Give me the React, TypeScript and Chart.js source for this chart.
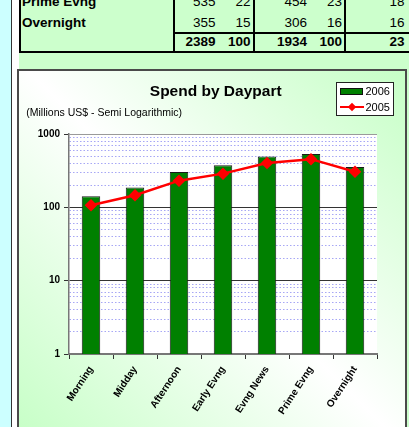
import React, { useEffect, useRef } from 'react';
import { Chart, registerables } from 'chart.js';
Chart.register(...registerables);

const FONT = '"Liberation Sans", Arial, Helvetica, sans-serif';

// ---- chart data ----
const categories = ['Morning', 'Midday', 'Afternoon', 'Early Evng', 'Evng News', 'Prime Evng', 'Overnight'];
const spend2006 = [142, 186, 303, 376, 492, 535, 355];
const spend2005 = [107, 146, 231, 288, 402, 454, 306];
const yTickLabels = [1, 10, 100, 1000];
const yMinorMultipliers = [2, 3, 4, 5, 6, 7, 8, 9];

// ---- table data (partially visible table above the chart) ----
const tableRowLabels = ['Prime Evng', 'Overnight'];
const tableSpendA = [535, 355];
const tableShareA = [22, 15];
const tableSpendB = [454, 306];
const tableShareB = [23, 16];
const tableLastCol = [18, 16];
const tableTotals = [2389, 100, 1934, 100, 23];

const yGridValues: number[] = [];
yTickLabels.forEach((d, i) => {
  yGridValues.push(d);
  if (i < yTickLabels.length - 1) yMinorMultipliers.forEach((m) => yGridValues.push(d * m));
});
const isMajor = (v: number) => yTickLabels.includes(v);

const plotBg = {
  id: 'plotBg',
  beforeDraw(chart: any) {
    const { ctx, chartArea } = chart;
    const { left, top, right, bottom } = chartArea;
    ctx.save();
    ctx.fillStyle = '#ffffff';
    ctx.fillRect(left, top, right - left, bottom - top);
    ctx.restore();
  },
};

const Txt = (p: { x?: number; right?: number; baseline: number; size: number; bold?: boolean; children: any }) => {
  const lh = Math.round(p.size * 1.2);
  const top = p.baseline - ((lh - p.size * 1.117) / 2 + p.size * 0.905);
  const style: any = {
    position: 'absolute',
    top,
    lineHeight: lh + 'px',
    height: lh,
    fontSize: p.size,
    fontFamily: FONT,
    fontWeight: p.bold ? 'bold' : 'normal',
    whiteSpace: 'nowrap',
    color: '#000',
  };
  if (p.right !== undefined) style.right = 409 - p.right;
  else style.left = p.x;
  return <div style={style}>{p.children}</div>;
};

const Line = (p: { x: number; y: number; w: number; h: number; c?: string }) => (
  <div style={{ position: 'absolute', left: p.x, top: p.y, width: p.w, height: p.h, background: p.c || '#000' }} />
);

export default function App() {
  const ref = useRef<HTMLCanvasElement>(null);

  useEffect(() => {
    if (!ref.current) return;
    const chart = new Chart(ref.current, {
      data: {
        labels: categories,
        datasets: [
          {
            type: 'line',
            label: '2005',
            data: spend2005,
            borderColor: '#ff0000',
            backgroundColor: '#ff0000',
            borderWidth: 2.5,
            pointStyle: 'rectRot',
            pointRadius: 4.5,
            pointBackgroundColor: '#ff0000',
            pointBorderColor: '#ff0000',
            order: 0,
          } as any,
          {
            type: 'bar',
            label: '2006',
            data: spend2006,
            backgroundColor: '#008000',
            borderColor: '#1a1a1a',
            borderWidth: 1,
            barPercentage: 0.42,
            categoryPercentage: 1,
            order: 1,
          } as any,
        ],
      },
      options: {
        animation: false,
        responsive: false,
        devicePixelRatio: 1,
        layout: { padding: { top: 63, right: 28, left: 0, bottom: 0 } },
        plugins: { legend: { display: false }, title: { display: false }, tooltip: { enabled: false } },
        scales: {
          x: {
            type: 'category',
            offset: true,
            afterFit: (s: any) => {
              s.height = 73;
            },
            grid: { offset: true, drawOnChartArea: false, drawTicks: true, tickLength: 5, tickColor: '#333', tickWidth: 1 },
            border: { color: '#777', width: 2 },
            ticks: {
              autoSkip: false,
              maxRotation: 57,
              minRotation: 57,
              padding: 5,
              color: '#000',
              font: { family: FONT, size: 10, weight: 'bold' },
            },
          },
          y: {
            type: 'logarithmic',
            min: 1,
            max: 1000,
            afterBuildTicks: (s: any) => {
              s.ticks = yGridValues.map((v) => ({ value: v, major: isMajor(v) }));
            },
            afterFit: (s: any) => {
              s.width = 50;
            },
            grid: {
              color: (c: any) => {
                const v = c.tick ? c.tick.value : 0;
                if (v === 1000) return '#9a9a9a';
                return isMajor(v) ? '#333333' : 'rgba(120,120,240,0.65)';
              },
              lineWidth: 1,
              tickLength: 5,
              tickColor: (c: any) => (c.tick && isMajor(c.tick.value) ? '#333' : 'rgba(0,0,0,0)'),
            },
            border: {
              color: '#777',
              width: 1.5,
              dash: (c: any) => (c.tick && !isMajor(c.tick.value) ? [1.5, 2] : []),
            } as any,
            ticks: {
              autoSkip: false,
              padding: 4,
              color: '#000',
              font: { family: FONT, size: 10, weight: 'bold' },
              callback: (v: any) => (isMajor(Number(v)) ? String(v) : ''),
            },
          },
        },
      } as any,
      plugins: [plotBg],
    });
    return () => chart.destroy();
  }, []);

  const tblSize = 13.5;
  const rowBaselines = [7, 27.3, 46.7];

  return (
    <div
      style={{
        position: 'absolute',
        left: 0,
        top: 0,
        width: 409,
        height: 427,
        overflow: 'hidden',
        background: '#ffffff',
        fontFamily: FONT,
      }}
    >
      {/* left cyan panel */}
      <div
        style={{
          position: 'absolute',
          left: 0,
          top: 0,
          width: 11,
          height: 427,
          background: '#ccffff',
          borderRight: '1.5px solid #333',
        }}
      />
      {/* green sheet area */}
      <div style={{ position: 'absolute', left: 19, top: 0, width: 390, height: 427, background: '#ccffcc' }} />

      {/* table borders */}
      <Line x={19} y={0} w={2} h={53} />
      <Line x={173} y={0} w={2} h={53} />
      <Line x={253} y={0} w={2} h={53} />
      <Line x={344} y={0} w={2} h={53} />
      <Line x={174} y={32} w={235} h={2} />
      <Line x={19} y={51} w={390} h={2} />

      {/* table text */}
      {tableRowLabels.map((lab, i) => (
        <React.Fragment key={lab}>
          <Txt x={22} baseline={rowBaselines[i]} size={tblSize} bold>
            {lab}
          </Txt>
          <Txt right={215.5} baseline={rowBaselines[i]} size={tblSize}>
            {tableSpendA[i]}
          </Txt>
          <Txt right={250.5} baseline={rowBaselines[i]} size={tblSize}>
            {tableShareA[i]}
          </Txt>
          <Txt right={307} baseline={rowBaselines[i]} size={tblSize}>
            {tableSpendB[i]}
          </Txt>
          <Txt right={342} baseline={rowBaselines[i]} size={tblSize}>
            {tableShareB[i]}
          </Txt>
          <Txt right={404.5} baseline={rowBaselines[i]} size={tblSize}>
            {tableLastCol[i]}
          </Txt>
        </React.Fragment>
      ))}
      {[215.5, 250.5, 307, 342, 404.5].map((r, i) => (
        <Txt key={'t' + i} right={r} baseline={rowBaselines[2]} size={tblSize} bold>
          {tableTotals[i]}
        </Txt>
      ))}

      {/* chart box */}
      <div
        style={{
          position: 'absolute',
          left: 17,
          top: 69,
          width: 390,
          height: 370,
          boxSizing: 'border-box',
          border: '2px solid #4a4a4a',
          background: 'linear-gradient(45deg, #c6ffc6 0%, #ffffff 50%, #c6ffc6 100%)',
        }}
      />
      <canvas
        ref={ref}
        width={386}
        height={356}
        style={{ position: 'absolute', left: 19, top: 71, width: 386, height: 356 }}
      />

      {/* title & subtitle */}
      <div
        style={{
          position: 'absolute',
          left: 115.7,
          width: 200,
          textAlign: 'center',
          top: 81.6,
          lineHeight: '18px',
          fontSize: 15.5,
          fontWeight: 'bold',
          fontFamily: FONT,
          color: '#000',
          whiteSpace: 'nowrap',
        }}
      >
        Spend by Daypart
      </div>
      <Txt x={26.3} baseline={115.7} size={10.5}>
        (Millions US$ - Semi Logarithmic)
      </Txt>

      {/* legend */}
      <div
        style={{
          position: 'absolute',
          left: 336,
          top: 82,
          width: 58,
          height: 34,
          boxSizing: 'border-box',
          border: '1px solid #222',
          background: '#ffffff',
        }}
      />
      <div
        style={{
          position: 'absolute',
          left: 340,
          top: 87.5,
          width: 23,
          height: 7,
          boxSizing: 'border-box',
          background: '#008000',
          border: '1px solid #111',
        }}
      />
      <Txt x={365.5} baseline={95.3} size={11}>
        2006
      </Txt>
      <div style={{ position: 'absolute', left: 340, top: 105.5, width: 24, height: 2.5, background: '#ff0000' }} />
      <div
        style={{
          position: 'absolute',
          left: 348.5,
          top: 103.5,
          width: 6,
          height: 6,
          background: '#ff0000',
          transform: 'rotate(45deg)',
        }}
      />
      <Txt x={365.5} baseline={111} size={11}>
        2005
      </Txt>
    </div>
  );
}
